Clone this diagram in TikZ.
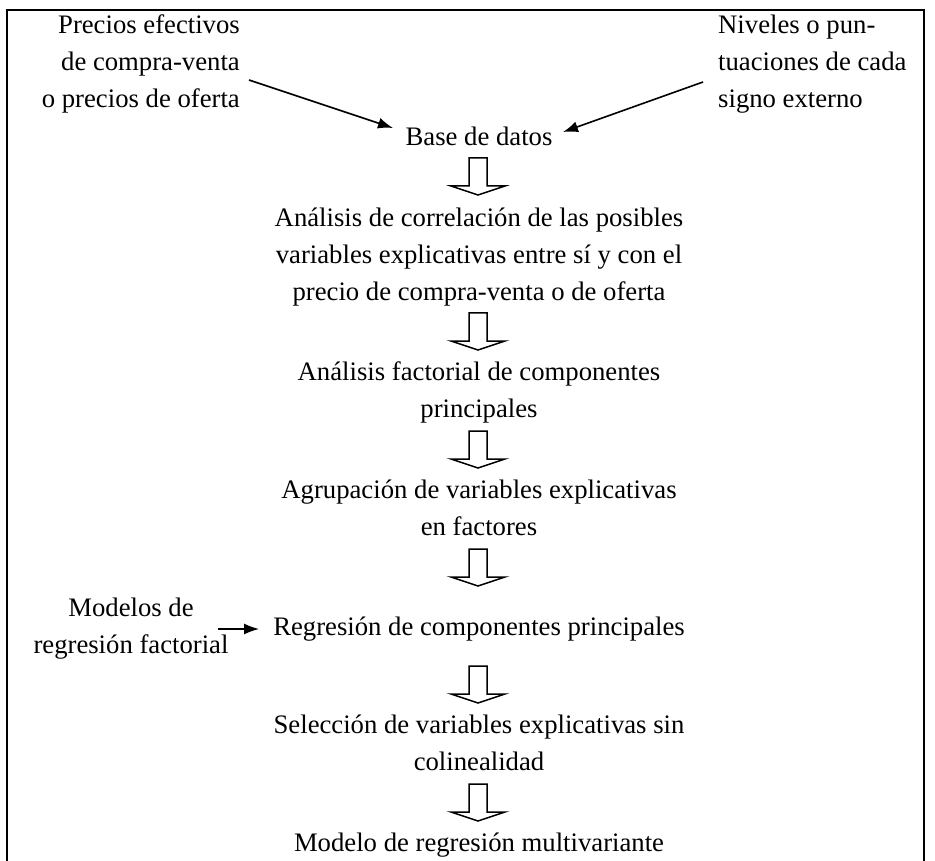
\documentclass[tikz,border=0pt]{standalone}
\usepackage{fontspec}
\setmainfont{Liberation Serif}
\usepackage{tikz}
\usetikzlibrary{arrows.meta}

\tikzset{
	txt/.style={inner sep=0pt, align=center, anchor=base},
	pointer/.style={-{Latex[length=15pt,width=11pt]}, line width=1.6pt},
}
% hollow down arrow: centre x, top y
\newcommand{\blockarrow}[2]{%
	\draw[line width=1.5pt, line join=miter] (#1-9,#2) -- (#1-9,#2+28) -- (#1-27,#2+28) -- (#1,#2+37)
		-- (#1+27,#2+28) -- (#1+9,#2+28) -- (#1+9,#2) -- cycle;}

\begin{document}
\begin{tikzpicture}[x=1pt,y=-1pt,font=\fontsize{26.7}{37}\selectfont]
		\useasboundingbox (0,0) rectangle (935,861);
		
		% Frame
		\draw[line width=1.6pt] (7,861) -- (7,10) -- (924,10) -- (924,861);
		
		% Main column (placed at the baseline of the last line)
		\node[txt] (base)   at (479,145.5) {Base de datos};
		\node[txt] (corr)   at (479,301) {Análisis de correlación de las posibles\\variables explicativas entre sí y con el\\precio de compra-venta o de oferta};
		\node[txt] (fact)   at (479,417) {Análisis factorial de componentes\\principales};
		\node[txt] (agrup)  at (479,535) {Agrupación de variables explicativas\\en factores};
		\node[txt] (regr)   at (479,635) {Regresión de componentes principales};
		\node[txt] (selec)  at (479,770) {Selección de variables explicativas sin\\colinealidad};
		\node[txt] (modelo) at (479,851) {Modelo de regresión multivariante};
		
		% Inputs
		\node[txt, align=right, anchor=base east] (precios) at (240,108) {Precios efectivos\\de compra-venta\\o precios de oferta};
		\node[txt, align=left, anchor=base west] (niveles) at (718,108) {Niveles o pun-\\tuaciones de cada\\signo externo};
		\node[txt] (modfact) at (131,653) {Modelos de\\regresión factorial};
		
		% Arrow ends
		\coordinate (p1) at (249,80);
		\coordinate (p2) at (393,128);
		\coordinate (n1) at (703,82);
		\coordinate (n2) at (563,132);
		\coordinate (m1) at (218,629);
		\coordinate (m2) at (259,629);
		
		\draw[pointer] (p1) -- (p2);
		\draw[pointer] (n1) -- (n2);
		\draw[pointer, line width=1.3pt] (m1) -- (m2);
		
		% Hollow arrows between the steps
		\foreach \t in {158,313,431,549,666,784}
			\blockarrow{478}{\t};
		
	\end{tikzpicture}
\end{document}
